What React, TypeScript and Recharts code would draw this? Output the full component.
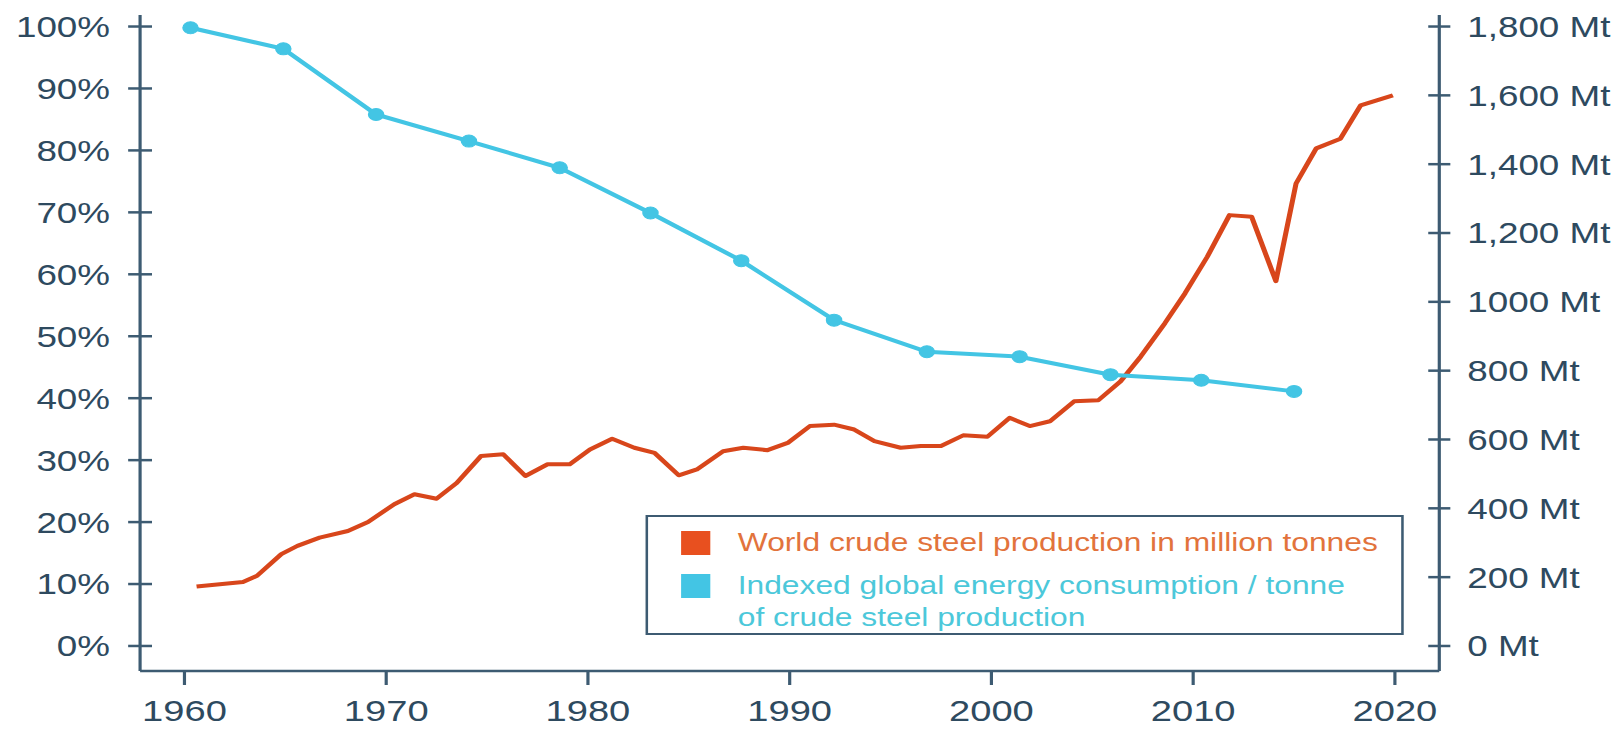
import { LineChart, Line, XAxis, YAxis } from "recharts";

// world crude steel production, Mt
const steelYears = [
  1960.6, 1962.9, 1963.6, 1964.8, 1965.6, 1966.7, 1968.1, 1969.1, 1970.4, 1971.4,
  1972.5, 1973.5, 1974.7, 1975.8, 1976.9, 1978.0, 1979.1, 1980.1, 1981.2, 1982.3,
  1983.3, 1984.5, 1985.4, 1986.7, 1987.7, 1988.9, 1989.9, 1991.0, 1992.2, 1993.2,
  1994.2, 1995.5, 1996.5, 1997.5, 1998.6, 1999.8, 2000.9, 2001.9, 2002.9, 2004.1,
  2005.3, 2006.4, 2007.4, 2008.6, 2009.6, 2010.7, 2011.8, 2012.9, 2014.1, 2015.1,
  2016.1, 2017.3, 2018.3, 2019.9,
];
const steelMt = [
  173, 186, 204, 267, 291, 315, 334, 360, 412, 441,
  428, 474, 552, 557, 494, 528, 528, 571, 602, 576,
  561, 496, 513, 566, 576, 569, 590, 639, 643, 629,
  595, 576, 581, 581, 612, 608, 663, 639, 653, 711,
  714, 769, 841, 938, 1025, 1131, 1252, 1247, 1060, 1344,
  1446, 1474, 1571, 1600,
];

// indexed energy use per tonne of steel, % (cyan markers)
const energyYears = [
  1960.3, 1964.9, 1969.5, 1974.1, 1978.6, 1983.1, 1987.6, 1992.2, 1996.8, 2001.4,
  2005.9, 2010.4, 2015.0,
];
const energyPct = [99.8, 96.4, 85.8, 81.5, 77.2, 69.9, 62.2, 52.6, 47.5, 46.7, 43.8, 42.9, 41.1];

const yearTicks = [1960, 1970, 1980, 1990, 2000, 2010, 2020];
const pctTicks = [0, 10, 20, 30, 40, 50, 60, 70, 80, 90, 100];
const mtTicks = [0, 200, 400, 600, 800, 1000, 1200, 1400, 1600, 1800];
const mtLabels = [
  "0 Mt", "200 Mt", "400 Mt", "600 Mt", "800 Mt", "1000 Mt",
  "1,200 Mt", "1,400 Mt", "1,600 Mt", "1,800 Mt",
];

const steelData = steelYears.map((year, i) => ({ year, mt: steelMt[i] }));
const energyData = energyYears.map((year, i) => ({ year, pct: energyPct[i] }));

const AXIS = "#3d5b72";
const TEXT = "#2e4a5f";
const ORANGE = "#d8461b";
const CYAN = "#43c5e4";
const FONT = "'Liberation Sans', Arial, sans-serif";

// the reference picture is stretched sideways, so the whole chart is too
const STRETCH = 1.27;

function LeftTick({ x, y, payload }: any) {
  return (
    <g>
      <line x1={x - 9.4} x2={x + 9.4} y1={y} y2={y} stroke={AXIS} strokeWidth={2.5} />
      <text x={x - 23.6} y={y} dy="0.36em" textAnchor="end" fill={TEXT} fontSize={29} fontFamily={FONT}>
        {payload.value}%
      </text>
    </g>
  );
}

function RightTick({ x, y, payload }: any) {
  const label = mtLabels[mtTicks.indexOf(payload.value)];
  return (
    <g>
      <line x1={x - 8.7} x2={x + 8.7} y1={y} y2={y} stroke={AXIS} strokeWidth={2.5} />
      <text x={x + 22} y={y} dy="0.36em" textAnchor="start" fill={TEXT} fontSize={29} fontFamily={FONT}>
        {label}
      </text>
    </g>
  );
}

function BottomTick({ x, y, payload }: any) {
  return (
    <g>
      <line x1={x} x2={x} y1={y} y2={y + 14} stroke={AXIS} strokeWidth={2.5} />
      <text x={x} y={y + 50} textAnchor="middle" fill={TEXT} fontSize={30} fontFamily={FONT}>
        {payload.value}
      </text>
    </g>
  );
}

function LegendBox() {
  const swatch = { position: "absolute" as const, left: 26, width: 23, height: 24 };
  const label = { position: "absolute" as const, left: 71, fontSize: 25, lineHeight: "32px", whiteSpace: "nowrap" as const };
  return (
    <div
      style={{
        position: "absolute",
        left: 501.6,
        top: 507,
        width: 597,
        height: 120,
        boxSizing: "border-box",
        border: `2.5px solid ${AXIS}`,
        background: "#fff",
        fontFamily: FONT,
      }}
    >
      <div style={{ ...swatch, top: 14, background: "#e8501f" }} />
      <div style={{ ...label, top: 9, color: "#e2733c" }}>World crude steel production in million tonnes</div>
      <div style={{ ...swatch, top: 57, background: CYAN }} />
      <div style={{ ...label, top: 52, color: "#4cc8da" }}>
        Indexed global energy consumption / tonne
        <br />
        of crude steel production
      </div>
    </div>
  );
}

export default function App() {
  return (
    <div
      style={{
        position: "relative",
        width: 1270,
        height: 725,
        background: "#fff",
        transform: `scaleX(${STRETCH})`,
        transformOrigin: "0 0",
      }}
    >
      <LineChart width={1270} height={725} margin={{ top: 7, right: 0, bottom: 0, left: 0 }}>
        <XAxis
          dataKey="year"
          type="number"
          domain={[1957.8, 2022.2]}
          ticks={yearTicks}
          interval={0}
          allowDataOverflow
          height={62}
          tickSize={0}
          tickMargin={0}
          tick={<BottomTick />}
          axisLine={{ stroke: AXIS, strokeWidth: 2.5 }}
        />
        <YAxis
          yAxisId="pct"
          orientation="left"
          type="number"
          domain={[-4.04, 101.86]}
          ticks={pctTicks}
          interval={0}
          allowDataOverflow
          width={104}
          tickSize={0}
          tickMargin={0}
          tick={<LeftTick />}
          axisLine={{ stroke: AXIS, strokeWidth: 2.5 }}
        />
        <YAxis
          yAxisId="mt"
          orientation="right"
          type="number"
          domain={[-72.7, 1833.5]}
          ticks={mtTicks}
          interval={0}
          allowDataOverflow
          width={143}
          tickSize={0}
          tickMargin={0}
          tick={<RightTick />}
          axisLine={{ stroke: AXIS, strokeWidth: 2.5 }}
        />
        <Line
          yAxisId="mt"
          data={steelData}
          dataKey="mt"
          type="linear"
          stroke={ORANGE}
          strokeWidth={4}
          strokeLinejoin="round"
          dot={false}
          activeDot={false}
          isAnimationActive={false}
        />
        <Line
          yAxisId="pct"
          data={energyData}
          dataKey="pct"
          type="linear"
          stroke={CYAN}
          strokeWidth={4}
          dot={{ r: 6, fill: CYAN, stroke: CYAN, strokeWidth: 1 }}
          activeDot={false}
          isAnimationActive={false}
        />
      </LineChart>
      <LegendBox />
    </div>
  );
}
